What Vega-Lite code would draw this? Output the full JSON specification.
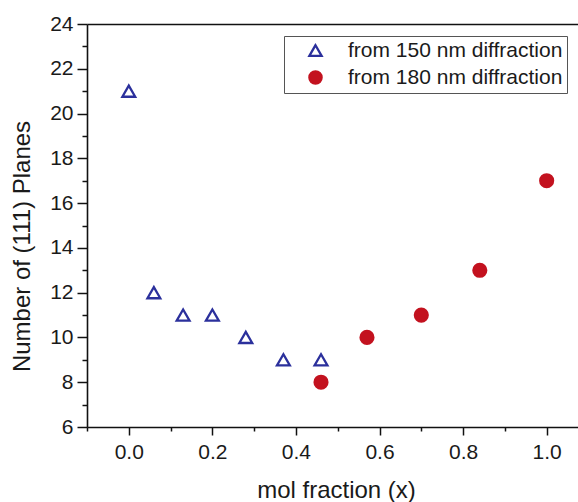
{
  "$schema": "https://vega.github.io/schema/vega-lite/v6.json",
  "autosize": {"type": "none"},
  "padding": {"left": 87, "top": 24, "right": 0, "bottom": 75},
  "width": 491,
  "height": 403,
  "background": "white",
  "view": {"stroke": null},
  "config": {
    "font": "Liberation Sans",
    "axis": {
      "domainColor": "#111",
      "domainWidth": 1.6,
      "tickColor": "#111",
      "tickWidth": 1.5,
      "labelColor": "#1a1a1a",
      "titleColor": "#1a1a1a",
      "labelFont": "Liberation Sans",
      "titleFont": "Liberation Sans",
      "labelFontSize": 21,
      "titleFontSize": 24,
      "titleFontWeight": "normal",
      "grid": false
    },
    "legend": {
      "labelFont": "Liberation Sans",
      "labelFontSize": 21,
      "labelColor": "#1a1a1a",
      "labelLimit": 500
    }
  },
  "data": {
    "values": [
      {"x": 0.0, "n": 21, "series": "from 150 nm diffraction"},
      {"x": 0.06, "n": 12, "series": "from 150 nm diffraction"},
      {"x": 0.13, "n": 11, "series": "from 150 nm diffraction"},
      {"x": 0.2, "n": 11, "series": "from 150 nm diffraction"},
      {"x": 0.28, "n": 10, "series": "from 150 nm diffraction"},
      {"x": 0.37, "n": 9, "series": "from 150 nm diffraction"},
      {"x": 0.46, "n": 9, "series": "from 150 nm diffraction"},
      {"x": 0.46, "n": 8, "series": "from 180 nm diffraction"},
      {"x": 0.57, "n": 10, "series": "from 180 nm diffraction"},
      {"x": 0.7, "n": 11, "series": "from 180 nm diffraction"},
      {"x": 0.84, "n": 13, "series": "from 180 nm diffraction"},
      {"x": 1.0, "n": 17, "series": "from 180 nm diffraction"}
    ]
  },
  "layer": [
    {
      "mark": {"type": "point", "opacity": 0},
      "encoding": {
        "x": {
          "field": "x", "type": "quantitative",
          "scale": {"domain": [-0.1, 1.075], "nice": false, "zero": false},
          "axis": {"orient": "bottom", "title": null, "labels": false, "domain": false,
                   "values": [-0.1, 0.1, 0.3, 0.5, 0.7, 0.9], "tickSize": 4}
        },
        "y": {
          "field": "n", "type": "quantitative",
          "scale": {"domain": [6, 24], "nice": false, "zero": false},
          "axis": {"orient": "left", "title": null, "labels": false, "domain": false,
                   "values": [7, 9, 11, 13, 15, 17, 19, 21, 23], "tickSize": 5}
        }
      }
    },
    {
      "mark": {"type": "point", "opacity": 0},
      "encoding": {
        "x": {
          "field": "x", "type": "quantitative",
          "scale": {"domain": [-0.1, 1.075], "nice": false, "zero": false},
          "axis": {"orient": "top", "title": null, "labels": false, "ticks": false, "domain": true}
        }
      }
    },
    {
      "mark": {"type": "point", "filled": true, "strokeWidth": 2.3, "size": 165, "opacity": 1},
      "encoding": {
        "x": {
          "field": "x", "type": "quantitative",
          "scale": {"domain": [-0.1, 1.075], "nice": false, "zero": false},
          "axis": {
            "orient": "bottom",
            "title": "mol fraction (x)",
            "values": [0, 0.2, 0.4, 0.6, 0.8, 1.0],
            "format": ".1f",
            "tickSize": 8,
            "labelPadding": 6,
            "labelFlush": false,
            "labelOverlap": false,
            "titleX": 249,
            "titleY": 70,
            "titleBaseline": "alphabetic",
            "titleAnchor": "middle",
            "titleAlign": "center"
          }
        },
        "y": {
          "field": "n", "type": "quantitative",
          "scale": {"domain": [6, 24], "nice": false, "zero": false},
          "axis": {
            "orient": "left",
            "title": "Number of (111) Planes",
            "values": [6, 8, 10, 12, 14, 16, 18, 20, 22, 24],
            "tickSize": 10,
            "labelPadding": 4,
            "labelFlush": false,
            "labelOverlap": false,
            "titleX": -65,
            "titleY": 222,
            "titleBaseline": "middle",
            "titleAlign": "center",
            "titleAngle": -90
          }
        },
        "fill": {
          "field": "series", "type": "nominal",
          "scale": {"domain": ["from 150 nm diffraction", "from 180 nm diffraction"], "range": ["white", "#c3121f"]},
          "legend": {
            "title": null,
            "orient": "none",
            "legendX": 197,
            "legendY": 12,
            "strokeColor": "#555",
            "fillColor": "white",
            "padding": 4,
            "symbolOffset": 17,
            "labelOffset": 22,
            "rowPadding": 5,
            "symbolSize": 150,
            "symbolStrokeWidth": 2.3,
            "labelLimit": 500
          }
        },
        "stroke": {
          "field": "series", "type": "nominal",
          "scale": {"domain": ["from 150 nm diffraction", "from 180 nm diffraction"], "range": ["#2b309c", "#c3121f"]},
          "legend": {
            "title": null,
            "orient": "none",
            "legendX": 197,
            "legendY": 12,
            "strokeColor": "#555",
            "fillColor": "white",
            "padding": 4,
            "symbolOffset": 17,
            "labelOffset": 22,
            "rowPadding": 5,
            "symbolSize": 150,
            "symbolStrokeWidth": 2.3,
            "labelLimit": 500
          }
        },
        "shape": {
          "field": "series", "type": "nominal",
          "scale": {"domain": ["from 150 nm diffraction", "from 180 nm diffraction"], "range": ["triangle-up", "circle"]},
          "legend": {
            "title": null,
            "orient": "none",
            "legendX": 197,
            "legendY": 12,
            "strokeColor": "#555",
            "fillColor": "white",
            "padding": 4,
            "symbolOffset": 17,
            "labelOffset": 22,
            "rowPadding": 5,
            "symbolSize": 150,
            "symbolStrokeWidth": 2.3,
            "labelLimit": 500
          }
        }
      }
    }
  ],
  "resolve": {"axis": {"x": "independent", "y": "independent"}}
}
